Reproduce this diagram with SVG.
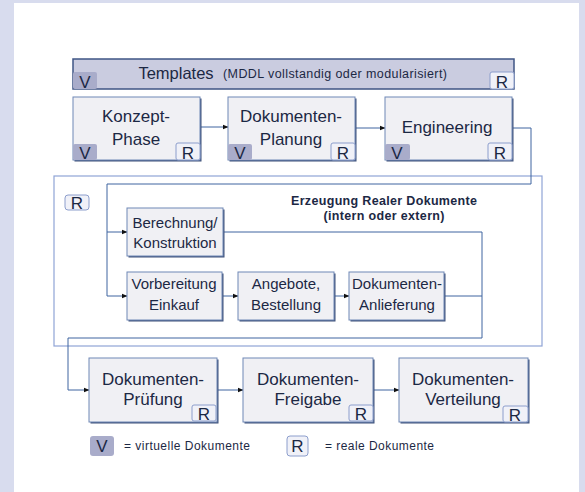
<svg xmlns="http://www.w3.org/2000/svg" width="585" height="492" viewBox="0 0 585 492">
<defs>
<marker id="ah" markerWidth="6" markerHeight="6" refX="5.5" refY="3" orient="auto" markerUnits="userSpaceOnUse">
<path d="M0,0.5 L6,3 L0,5.5 Z" fill="#111"/>
</marker>
<style>
.bg{fill:#d8dcee}
.panel{fill:#ffffff}
.shadow{fill:#3e5078}
.box{fill:#f0f0f4;stroke:#6f88b6;stroke-width:1}
.bar{fill:#cacce0;stroke:#3f5585;stroke-width:1.5}
.vb{fill:#a9acca}
.rb{fill:#f0f1f8;stroke:#8c9ecc;stroke-width:1}
.t{font-family:"Liberation Sans",Arial,sans-serif;fill:#1c2844;text-anchor:middle}
.big{font-size:17px}
.mid{font-size:15px}
.badge{font-size:17px}
.small{font-family:"Liberation Sans",Arial,sans-serif;fill:#1c2844;font-size:12.5px}
.leg{font-family:"Liberation Sans",Arial,sans-serif;fill:#1c2844;font-size:12px}
.bold{font-family:"Liberation Sans",Arial,sans-serif;fill:#1c2844;font-size:12.5px;font-weight:bold;text-anchor:middle}
.conn{fill:none;stroke:#3f64a0;stroke-width:1}
.frame{fill:none;stroke:#8fa4d6;stroke-width:1.2}
</style>
</defs>
<rect class="bg" x="0" y="0" width="585" height="492"/>
<rect class="panel" x="14" y="3" width="565" height="489"/>

<g id="frame">
<rect class="frame" x="54" y="176" width="488" height="170"/>
<rect class="rb" x="65" y="195" width="24" height="15" rx="3"/>
<text class="t badge" x="77" y="209">R</text>
<text class="bold" x="384" y="205" textLength="186" lengthAdjust="spacing">Erzeugung Realer Dokumente</text>
<text class="bold" x="384" y="220" textLength="121" lengthAdjust="spacing">(intern oder extern)</text>
</g>

<g id="connectors">
<path class="conn" d="M200,127 H228" marker-end="url(#ah)"/>
<path class="conn" d="M355,128 H385" marker-end="url(#ah)"/>
<path class="conn" d="M512,128 H531 V184 H107 V296 H127" marker-end="url(#ah)"/>
<path class="conn" d="M107,232 H127" marker-end="url(#ah)"/>
<path class="conn" d="M223,232 H482 V338 H68 V390 H89" marker-end="url(#ah)"/>
<path class="conn" d="M444,296 H482"/>
<path class="conn" d="M222,296 H238" marker-end="url(#ah)"/>
<path class="conn" d="M334,296 H349" marker-end="url(#ah)"/>
<path class="conn" d="M217,390 H243" marker-end="url(#ah)"/>
<path class="conn" d="M373,390 H399" marker-end="url(#ah)"/>
</g>

<g id="templates">
<rect class="bar" x="73" y="59" width="441" height="30"/>
<rect class="vb" x="73" y="72" width="24" height="17" rx="2"/>
<text class="t badge" x="85" y="88">V</text>
<rect class="rb" x="490" y="72" width="24" height="17" rx="2"/>
<text class="t badge" x="502" y="88">R</text>
<text class="t" x="176" y="79" style="font-size:16.5px">Templates</text>
<text class="small" x="223" y="78" textLength="224" lengthAdjust="spacing">(MDDL vollstandig oder modularisiert)</text>
</g>

<g id="konzept">
<rect class="shadow" x="74.5" y="98.5" width="127" height="63"/>
<rect class="box" x="73" y="97" width="127" height="63"/>
<text class="t big" x="136" y="122">Konzept-</text>
<text class="t big" x="136" y="145">Phase</text>
<rect class="vb" x="73" y="144" width="24" height="16" rx="2"/>
<text class="t badge" x="85" y="159">V</text>
<rect class="rb" x="176" y="143" width="24" height="17" rx="2"/>
<text class="t badge" x="188" y="159">R</text>
</g>

<g id="planung">
<rect class="shadow" x="229.5" y="98.5" width="127" height="63"/>
<rect class="box" x="228" y="97" width="127" height="63"/>
<text class="t big" x="291" y="122">Dokumenten-</text>
<text class="t big" x="291" y="145">Planung</text>
<rect class="vb" x="228" y="144" width="24" height="16" rx="2"/>
<text class="t badge" x="240" y="159">V</text>
<rect class="rb" x="331" y="143" width="24" height="17" rx="2"/>
<text class="t badge" x="343" y="159">R</text>
</g>

<g id="engineering">
<rect class="shadow" x="386.5" y="98.5" width="127" height="63"/>
<rect class="box" x="385" y="97" width="127" height="63"/>
<text class="t big" x="447" y="133">Engineering</text>
<rect class="vb" x="385" y="144" width="25" height="16" rx="2"/>
<text class="t badge" x="397" y="159">V</text>
<rect class="rb" x="488" y="143" width="24" height="17" rx="2"/>
<text class="t badge" x="500" y="159">R</text>
</g>

<g id="berechnung">
<rect class="shadow" x="128.5" y="209.5" width="96" height="48"/>
<rect class="box" x="127" y="208" width="96" height="48"/>
<text class="t mid" x="175" y="228">Berechnung/</text>
<text class="t mid" x="175" y="248">Konstruktion</text>
</g>

<g id="vorbereitung">
<rect class="shadow" x="128.5" y="273.5" width="95" height="48"/>
<rect class="box" x="127" y="272" width="95" height="48"/>
<text class="t mid" x="174" y="289">Vorbereitung</text>
<text class="t mid" x="174" y="310">Einkauf</text>
</g>

<g id="angebote">
<rect class="shadow" x="239.5" y="273.5" width="96" height="48"/>
<rect class="box" x="238" y="272" width="96" height="48"/>
<text class="t mid" x="286" y="289">Angebote,</text>
<text class="t mid" x="286" y="310">Bestellung</text>
</g>

<g id="anlieferung">
<rect class="shadow" x="350.5" y="273.5" width="95" height="48"/>
<rect class="box" x="349" y="272" width="95" height="48"/>
<text class="t mid" x="397" y="289">Dokumenten-</text>
<text class="t mid" x="397" y="310">Anlieferung</text>
</g>

<g id="pruefung">
<rect class="shadow" x="90.5" y="359.5" width="128" height="64"/>
<rect class="box" x="89" y="358" width="128" height="64"/>
<text class="t big" x="153" y="385">Dokumenten-</text>
<text class="t big" x="153" y="405">Prüfung</text>
<rect class="rb" x="192" y="405" width="24" height="16" rx="2"/>
<text class="t badge" x="204" y="420">R</text>
</g>

<g id="freigabe">
<rect class="shadow" x="244.5" y="359.5" width="130" height="64"/>
<rect class="box" x="243" y="358" width="130" height="64"/>
<text class="t big" x="308" y="385">Dokumenten-</text>
<text class="t big" x="308" y="405">Freigabe</text>
<rect class="rb" x="349" y="405" width="24" height="16" rx="2"/>
<text class="t badge" x="361" y="420">R</text>
</g>

<g id="verteilung">
<rect class="shadow" x="400.5" y="359.5" width="129" height="64"/>
<rect class="box" x="399" y="358" width="129" height="64"/>
<text class="t big" x="463" y="385">Dokumenten-</text>
<text class="t big" x="463" y="405">Verteilung</text>
<rect class="rb" x="503" y="406" width="25" height="16" rx="2"/>
<text class="t badge" x="515" y="421">R</text>
</g>

<g id="legend">
<rect class="vb" x="90" y="436" width="24" height="20" rx="3"/>
<text class="t badge" x="102" y="452">V</text>
<text class="leg" x="124" y="450" textLength="126" lengthAdjust="spacing">= virtuelle  Dokumente</text>
<rect class="rb" x="287" y="436" width="21" height="20" rx="3"/>
<text class="t badge" x="297.5" y="452">R</text>
<text class="leg" x="325" y="450" textLength="109" lengthAdjust="spacing">= reale Dokumente</text>
</g>
</svg>
